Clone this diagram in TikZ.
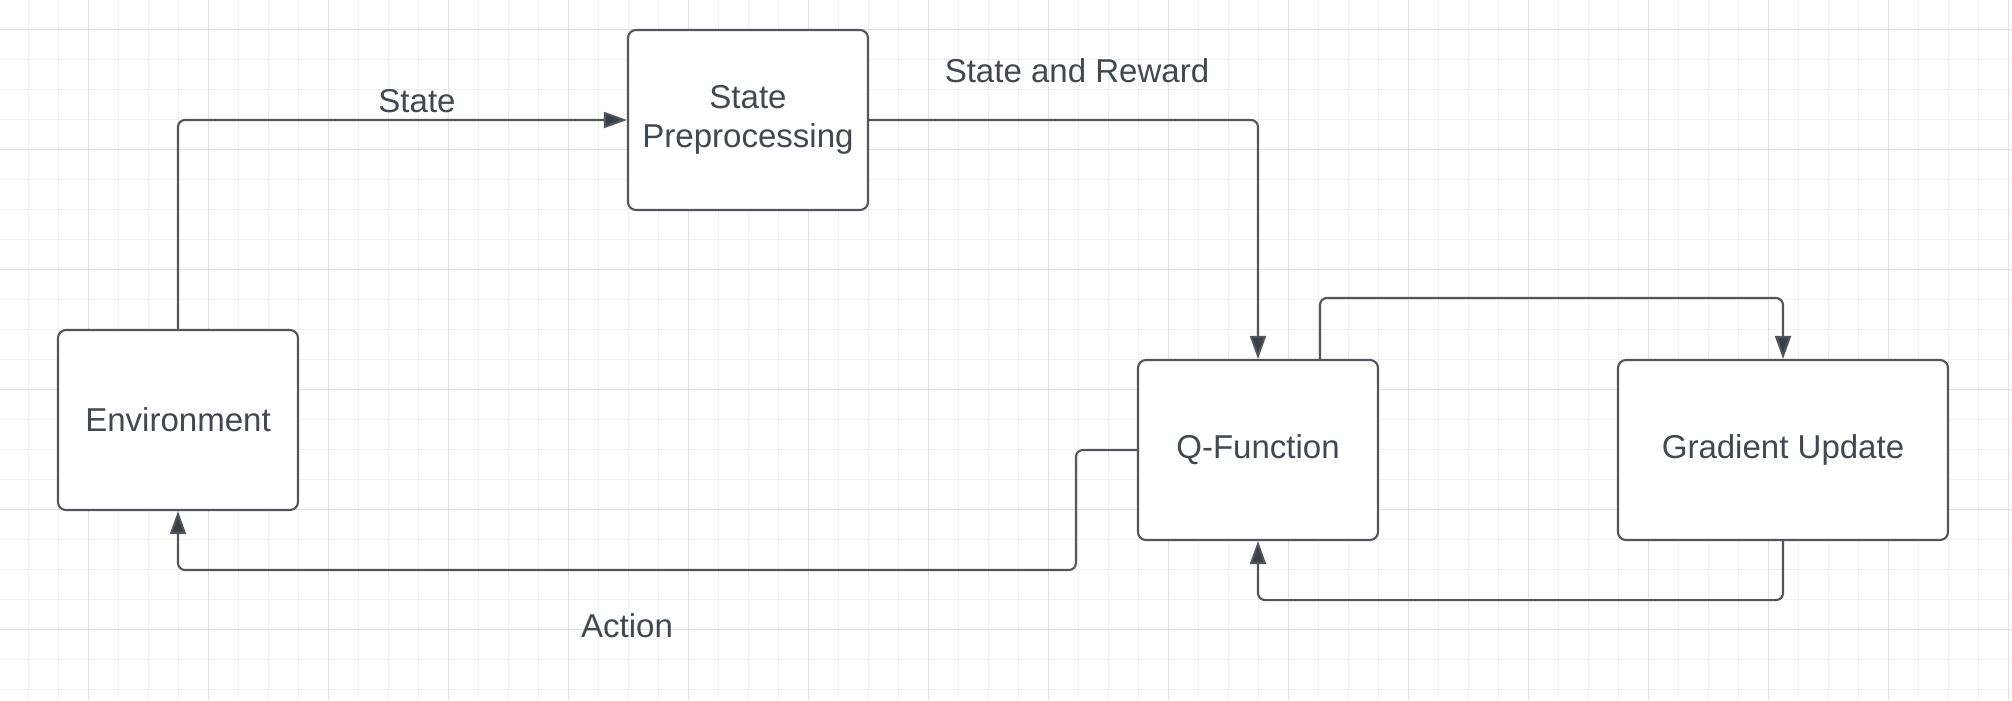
\documentclass[tikz,border=0pt]{standalone}
\usepackage{fontspec}
\setmainfont{Liberation Sans}
\usetikzlibrary{arrows.meta,positioning}
\definecolor{inkline}{RGB}{82,86,92}
\definecolor{inktip}{RGB}{58,63,70}
\definecolor{inktext}{RGB}{66,72,80}
\definecolor{gridminor}{RGB}{240,240,240}
\definecolor{gridmajor}{RGB}{225,225,225}
\tikzset{
  blk/.style={draw=inkline, line width=0.6pt, fill=white, rounded corners=0.8mm,
    minimum width=24mm, minimum height=18mm, align=center, text=inktext,
    font=\fontsize{9.4}{11.2}\selectfont},
  lbl/.style={text=inktext, font=\fontsize{9.4}{11.2}\selectfont},
  link/.style={draw=inkline, line width=0.6pt, rounded corners=0.7mm,
    -{Triangle[length=2.3mm,width=1.6mm,fill=inktip]}}
}
\begin{document}
\begin{tikzpicture}[x=0.1mm, y=-0.1mm]
  \useasboundingbox (0,0) rectangle (2012,700);
  \fill[white] (0,0) rectangle (2012,700);
  % grid
  \foreach \x in {28.3,58.3,...,2012} \draw[gridminor, line width=0.4pt] (\x,0) -- (\x,700);
  \foreach \y in {29.3,59.3,...,700} \draw[gridminor, line width=0.4pt] (0,\y) -- (2012,\y);
  \foreach \x in {88.3,208.3,...,2012} \draw[gridmajor, line width=0.4pt] (\x,0) -- (\x,700);
  \foreach \y in {29.3,149.3,...,700} \draw[gridmajor, line width=0.4pt] (0,\y) -- (2012,\y);

  % blocks
  \node[blk] (env) at (178,420) {Environment};
  \node[blk] (prep) at (748,120) {State\\Preprocessing};
  \node[blk] (qf) at (1258,450) {Q-Function};
  \node[blk, minimum width=33mm] (grad) at (1783,450) {Gradient Update};

  % connectors
  \draw[link] (env.north) |- (prep.west);
  \draw[link] (prep.east) -| (qf.north);
  \draw[link] ([xshift=6.2mm]qf.north) -- ++(0,-61) -| (grad.north);
  \draw[link] (grad.south) -- ++(0,59) -| (qf.south);
  \draw[link] (qf.west) -- ++(-61,0) -- ++(0,120) -| (env.south);

  % labels
  \node[lbl] (lstate) at (417,101) {State};
  \node[lbl] (lreward) at (1077,71) {State and Reward};
  \node[lbl] (laction) at (627,626) {Action};
\end{tikzpicture}
\end{document}
